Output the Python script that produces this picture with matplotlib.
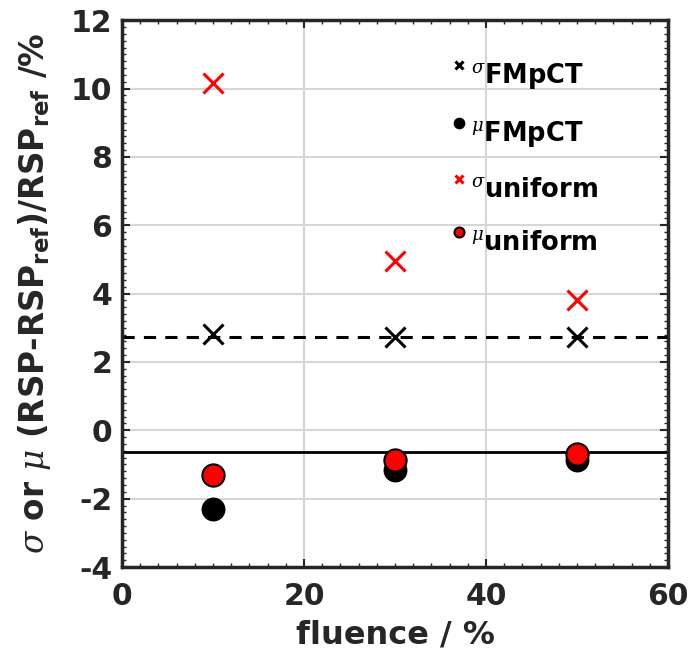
import numpy as np
import matplotlib
matplotlib.use("Agg")
import matplotlib.pyplot as plt
from matplotlib.ticker import MultipleLocator
from matplotlib.legend_handler import HandlerLine2D

# Fluence levels (%) and relative RSP errors (%)
fluence = [10, 30, 50]
sigma_fmpct = [2.83, 2.72, 2.72]
mu_fmpct = [-2.31, -1.16, -0.87]
sigma_uniform = [10.15, 4.95, 3.81]
mu_uniform = [-1.31, -0.87, -0.70]

# Reference levels
sigma_ref_level = 2.72
mu_ref_level = -0.63

labels = [r"$^{\sigma}$FMpCT", r"$^{\mu}$FMpCT",
          r"$^{\sigma}$uniform", r"$^{\mu}$uniform"]

dark = "#262626"
plt.rcParams["font.family"] = ["DejaVu Sans"]
plt.rcParams["axes.unicode_minus"] = False
plt.rcParams["mathtext.fontset"] = "custom"
plt.rcParams["mathtext.rm"] = "DejaVu Sans"
plt.rcParams["mathtext.it"] = "DejaVu Serif:italic"
plt.rcParams["mathtext.bf"] = "DejaVu Sans:bold"


class RaisedMarkerHandler(HandlerLine2D):
    """Legend marker lifted up to sit beside the superscript symbol."""

    def __init__(self, lift=7.0, **kw):
        super().__init__(**kw)
        self.lift = lift

    def create_artists(self, legend, orig_handle, xdescent, ydescent,
                       width, height, fontsize, trans):
        arts = super().create_artists(legend, orig_handle, xdescent, ydescent,
                                      width, height, fontsize, trans)
        for a in arts:
            a.set_ydata(np.asarray(a.get_ydata(), dtype=float) + self.lift)
        return arts


fig = plt.figure(figsize=(6.91, 6.51), dpi=100)
ax = fig.add_axes([0.1766, 0.129, 0.790, 0.840])

ax.grid(True, color="#d6d6d6", linewidth=1.5, zorder=0)
ax.axhline(sigma_ref_level, color="black", linestyle=(0, (4, 3)), linewidth=2.2, zorder=2)
ax.axhline(mu_ref_level, color="black", linestyle="-", linewidth=2.0, zorder=2)

h1, = ax.plot(fluence, sigma_fmpct, linestyle="none", marker="x", color="black",
              markersize=14, markeredgewidth=2.2, zorder=4, label=labels[0])
h2, = ax.plot(fluence, mu_fmpct, linestyle="none", marker="o", color="black",
              markersize=16, markeredgewidth=1.2, zorder=4, label=labels[1])
h3, = ax.plot(fluence, sigma_uniform, linestyle="none", marker="x", color="red",
              markersize=14, markeredgewidth=2.2, zorder=5, label=labels[2])
h4, = ax.plot(fluence, mu_uniform, linestyle="none", marker="o", markerfacecolor="red",
              markeredgecolor="black", markersize=16, markeredgewidth=1.5, zorder=5,
              label=labels[3])

ax.set_xlim(0, 60)
ax.set_ylim(-4, 12)
ax.xaxis.set_major_locator(MultipleLocator(20))
ax.xaxis.set_minor_locator(MultipleLocator(2))
ax.yaxis.set_major_locator(MultipleLocator(2))
ax.yaxis.set_minor_locator(MultipleLocator(0.2))

ax.tick_params(which="both", direction="in", top=True, right=True, colors=dark)
ax.tick_params(which="major", length=6, width=1.5, labelsize=21.5)
ax.tick_params(axis="x", which="major", pad=11)
ax.tick_params(axis="y", which="major", pad=7)
ax.tick_params(which="minor", length=3, width=1.0)
for lab in ax.get_xticklabels() + ax.get_yticklabels():
    lab.set_fontweight("bold")
for sp in ax.spines.values():
    sp.set_linewidth(2.5)
    sp.set_color(dark)

ax.set_xlabel("fluence / %", fontsize=23, fontweight="bold", color=dark, labelpad=6)
ax.set_ylabel(r"$\sigma$ or $\mu$ (RSP-RSP$_{\mathbf{ref}}$)/RSP$_{\mathbf{ref}}$ /%",
              fontsize=23.5, fontweight="bold", color=dark, labelpad=13)

leg = ax.legend(handles=[h1, h2, h3, h4], loc="upper left",
                bbox_to_anchor=(0.607, 0.925), frameon=False,
                prop={"weight": "bold", "size": 18.5}, handlelength=0.45,
                handletextpad=0.25, labelspacing=1.08, markerscale=0.45,
                borderaxespad=0, borderpad=0,
                handler_map={h: RaisedMarkerHandler(lift=6.5) for h in (h1, h2, h3, h4)})
for t in leg.get_texts():
    t.set_color("black")

fig.savefig("out.png", dpi=100)
